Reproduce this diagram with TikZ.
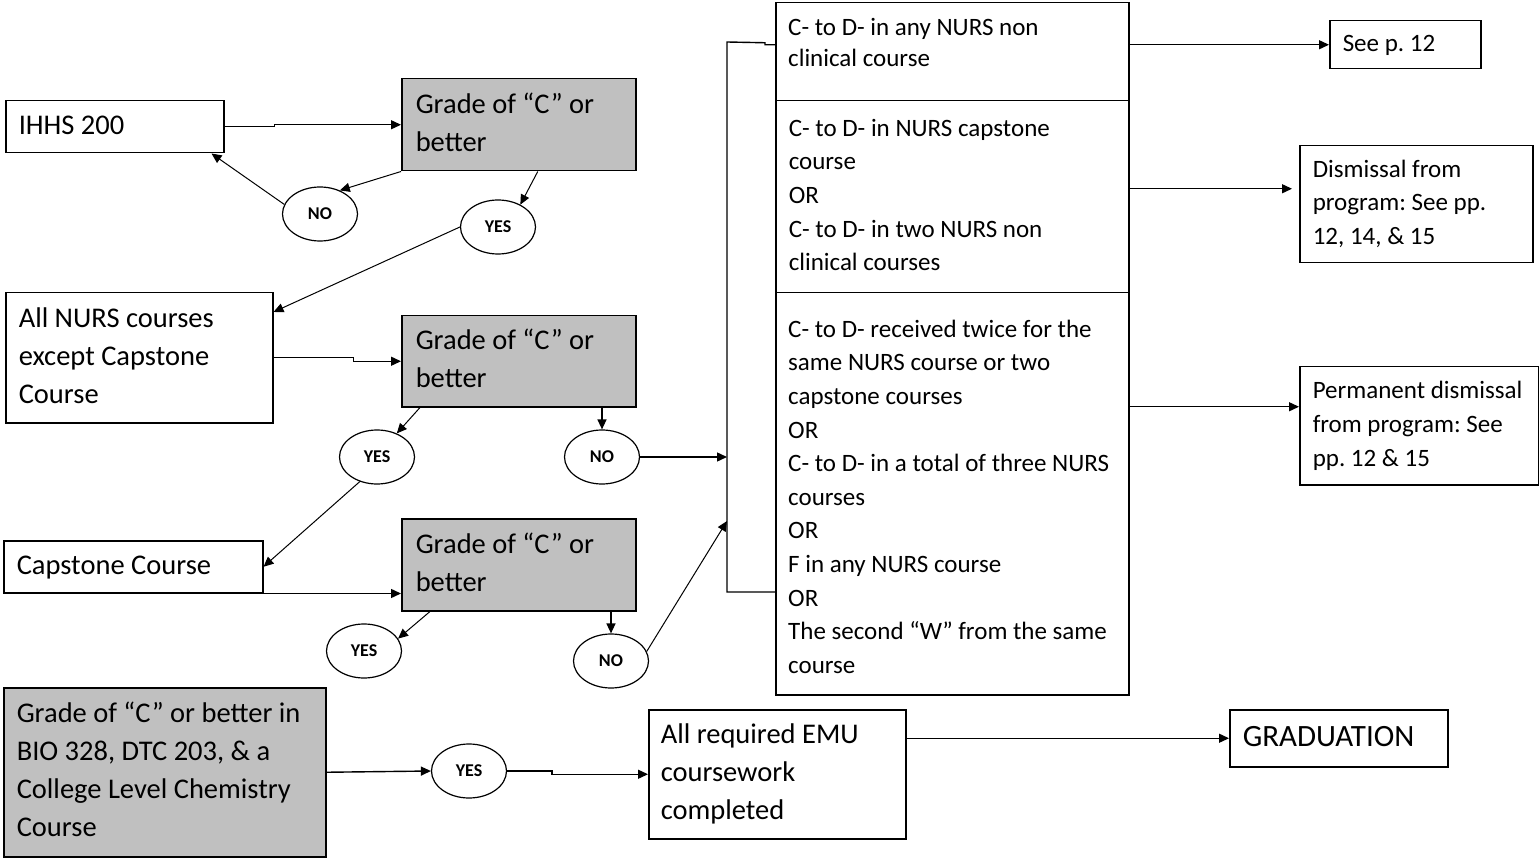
\documentclass[tikz,border=0pt]{standalone}
\usepackage{fontspec}
\setmainfont{Carlito}
\frenchspacing
\usetikzlibrary{shapes.geometric,arrows.meta,calc}
\definecolor{boxgray}{RGB}{192,192,192}
\newcommand{\fsz}[2]{\fontsize{#1pt}{#2pt}\selectfont}
\newcommand{\tl}[1]{\noindent\spaceskip=0pt\xspaceskip=0pt\relax\begin{tabular}{@{}l@{}}#1\end{tabular}}
\tikzset{
  box/.style={draw=black, line width=1.5pt, anchor=north west, inner xsep=13pt, inner ysep=0pt, font=\fsz{28.5}{38}},
  sbox/.style={box, font=\fsz{25}{33.6}},
  gbox/.style={box, fill=boxgray, inner xsep=14pt},
  ell/.style={draw, ellipse, line width=1.2pt, minimum width=75pt, minimum height=54pt, inner sep=0pt, font=\bfseries\fsz{18}{18}},
  arr/.style={line width=1.4pt, -{Triangle[length=10pt,width=9pt]}},
  darr/.style={arr, line width=1pt},
  conn/.style={line width=1.4pt},
  stxt/.style={anchor=north west, inner sep=0pt, font=\fsz{25}{33.6}},
}
\begin{document}
\begin{tikzpicture}[x=1pt,y=-1pt]
\useasboundingbox (0,0) rectangle (1539,858);
% left column
\node[box, minimum height=52pt, text width=192pt] (ihhs) at (5,100) {\tl{IHHS 200}};
\node[gbox, minimum height=92pt, text width=206pt] (g1) at (401,78) {\tl{Grade of “C” or\\better}};
\node[ell] (no1) at (320,214) {NO};
\node[ell] (yes1) at (498,227) {YES};
\node[box, minimum height=130pt, text width=241pt] (nurs) at (5,292) {\tl{All NURS courses\\except Capstone\\Course}};
\node[gbox, minimum height=91pt, text width=206pt] (g2) at (401,315) {\tl{Grade of “C” or\\better}};
\node[ell] (yes2) at (377,457) {YES};
\node[ell] (no2) at (602,457) {NO};
\node[box, minimum height=52pt, text width=233pt] (cap) at (3,540) {\tl{Capstone Course}};
\node[gbox, minimum height=92pt, text width=206pt] (g3) at (401,518) {\tl{Grade of “C” or\\better}};
\node[ell] (yes3) at (364,651) {YES};
\node[ell] (no3) at (611,661) {NO};
\node[box, fill=boxgray, minimum height=169pt, text width=296pt] (gbot) at (3,687) {\tl{Grade of “C” or better in\\BIO 328, DTC 203, \& a\\College Level Chemistry\\Course}};
\node[ell] (yes4) at (469,771) {YES};
\node[box, minimum height=129pt, text width=233pt, inner xsep=12pt] (emu) at (648,709) {\tl{All required EMU\\coursework\\completed}};
\node[box, minimum height=57pt, text width=192pt, font=\fsz{31}{40}] (grad) at (1229,709) {\tl{GRADUATION}};
% right block
\node[sbox, minimum height=98pt, text width=327pt] (s1) at (775,2) {};
\node[stxt] (s1t) at (788,12) {\tl{C- to D- in any NURS non\\[-2.5pt]clinical course}};
\node[sbox, minimum height=192pt, text width=327pt] (s2) at (775,100) {\tl{C- to D- in NURS capstone\\course\\OR\\C- to D- in two NURS non\\clinical courses}};
\node[sbox, minimum height=402pt, text width=327pt] (s3) at (775,292) {};
\node[stxt] (s3t) at (788,313.5) {\tl{C- to D- received twice for the\\same NURS course or two\\capstone courses\\OR\\C- to D- in a total of three NURS\\courses\\OR\\F in any NURS course\\OR\\The second “W” from the same\\course}};
\node[sbox, minimum height=48pt, text width=125pt] (seep) at (1329,20) {\tl{See p. 12}};
\node[sbox, minimum height=117pt, text width=207pt] (dis) at (1299,145) {\tl{Dismissal from\\program: See pp.\\12, 14, \& 15}};
\node[sbox, minimum height=118pt, text width=213pt] (perm) at (1299,366) {\tl{Permanent dismissal\\from program: See\\pp. 12 \& 15}};
% connectors
\draw[arr] (ihhs.east) -- ++(50,0) |- (g1.west);
\draw[darr] (g1.south west) -- (no1.50);
\draw[darr] (no1.165) -- ([xshift=-13pt]ihhs.south east);
\draw[darr] ([xshift=19pt]g1.south) -- (yes1.45);
\draw[darr] (yes1.180) -- ([yshift=-20pt]nurs.north east);
\draw[arr] (nurs.east) -- ++(80,0) |- (g2.west);
\draw[darr] ([xshift=19pt]g2.south west) -- (yes2.50);
\draw[arr] (no2.north |- g2.south) -- (no2.north);
\coordinate (btop) at (727,42);
\coordinate (bbot) at (727,592);
\coordinate (bin) at (727,521);
\draw[arr] (no2.east) -- (no2.east -| btop);
\draw[darr] (yes2.235) -- (cap.east);
\draw[arr] (cap.south east) -- (cap.south east -| g3.west);
\draw[darr] ([xshift=29pt]g3.south west) -- (yes3.20);
\draw[arr] (no3.north |- g3.south) -- (no3.north);
\draw[darr] (no3.15) -- (bin);
\draw[conn] ([yshift=7pt]s1.west) -- ++(-10,0) -- ++(0,-2) -- (btop) -- (bbot) -- (bbot -| s3.west);
\draw[arr] (s1.east |- seep.west) -- (seep.west);
\coordinate (dy) at ($(dis.west)+(0,-15.5)$);
\draw[arr, shorten >=7pt] (s2.east |- dy) -- (dy);
\coordinate (py) at ($(perm.west)+(0,-19)$);
\draw[arr] (s3.east |- py) -- (py);
\draw[arr] (gbot.east) -- (yes4.west);
\draw[arr] (yes4.east) -- ++(45,0) |- (emu.west);
\draw[arr] (emu.east |- grad.west) -- (grad.west);
\end{tikzpicture}
\end{document}
